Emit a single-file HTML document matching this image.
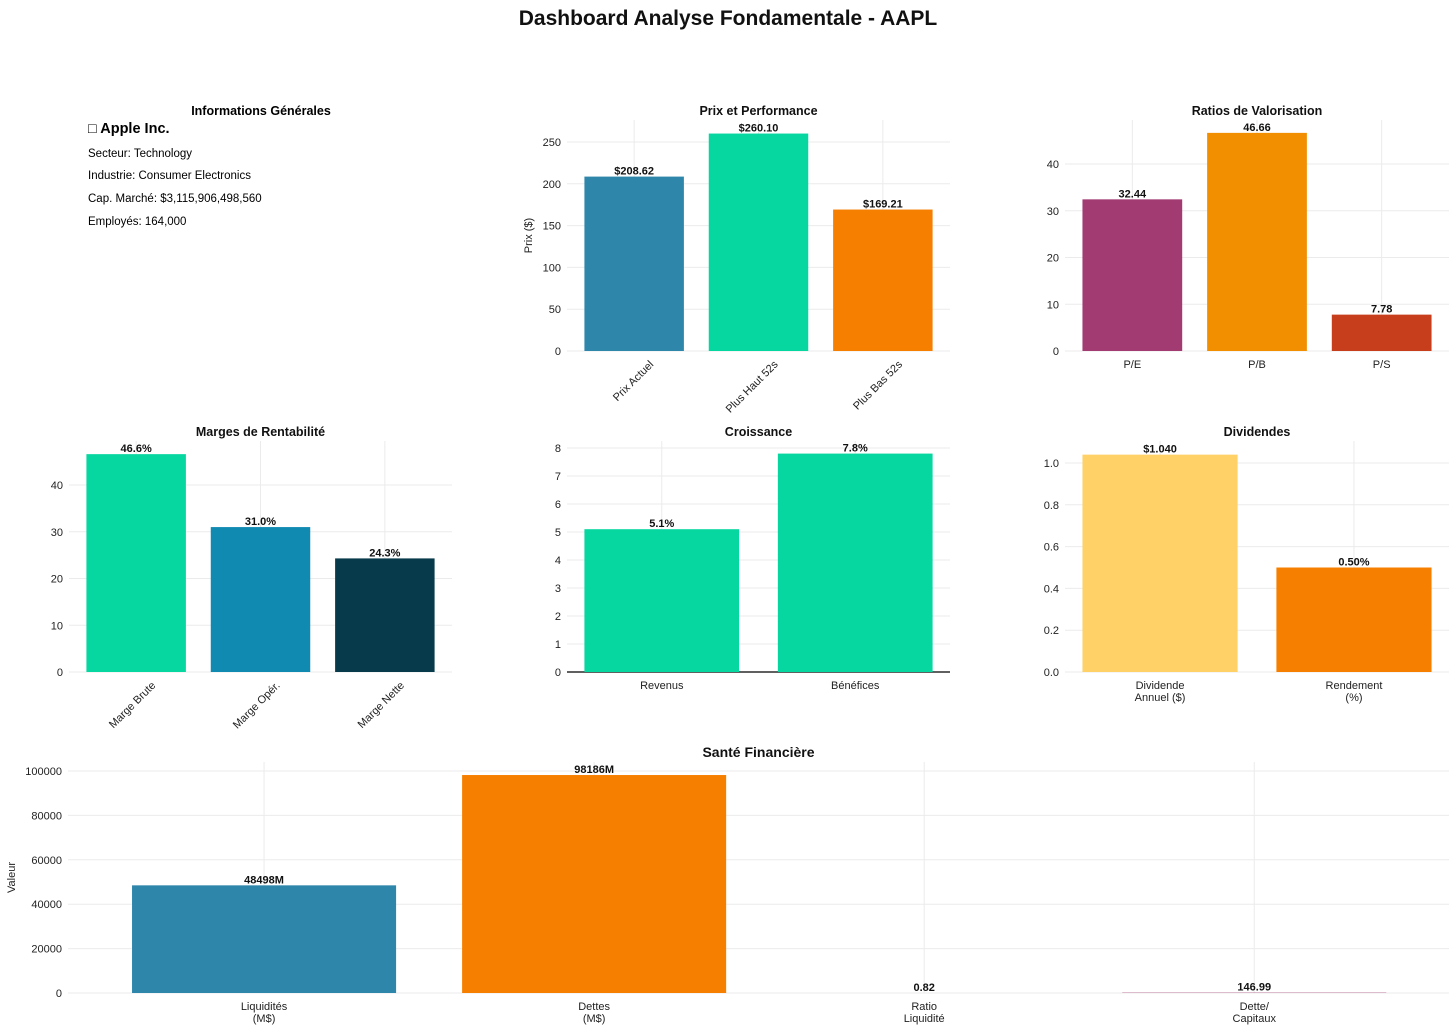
<!DOCTYPE html>
<html><head><meta charset="utf-8">
<style>
body{margin:0;background:#fff;font-family:"Liberation Sans","DejaVu Sans",sans-serif;}
svg{display:block}
</style></head><body>
<svg id="c" width="1456" height="1035" xmlns="http://www.w3.org/2000/svg" font-family="Liberation Sans, DejaVu Sans, sans-serif">
<text x="728" y="25" text-anchor="middle" font-size="21" font-weight="bold" fill="#111">Dashboard Analyse Fondamentale - AAPL</text>
<g>
<text x="261" y="115" text-anchor="middle" font-size="12.5" font-weight="bold">Informations Générales</text>
<text x="88" y="133" font-size="14.5" font-weight="bold">□ Apple Inc.</text>
<text x="88" y="157" font-size="11.5">Secteur: Technology</text>
<text x="88" y="179" font-size="11.5">Industrie: Consumer Electronics</text>
<text x="88" y="202" font-size="11.5">Cap. Marché: $3,115,906,498,560</text>
<text x="88" y="225" font-size="11.5">Employés: 164,000</text>
</g>
</svg>
<script>
const prixCats=["Prix Actuel","Plus Haut 52s","Plus Bas 52s"];
const prixVals=[208.62,260.10,169.21];
const prixLabels=["$208.62","$260.10","$169.21"];
const prixTicks=[0,50,100,150,200,250];

const ratioCats=["P/E","P/B","P/S"];
const ratioVals=[32.44,46.66,7.78];
const ratioLabels=["32.44","46.66","7.78"];
const ratioTicks=[0,10,20,30,40];

const margeCats=["Marge Brute","Marge Opér.","Marge Nette"];
const margeVals=[46.6,31.0,24.3];
const margeLabels=["46.6%","31.0%","24.3%"];
const margeTicks=[0,10,20,30,40];

const croisCats=["Revenus","Bénéfices"];
const croisVals=[5.1,7.8];
const croisLabels=["5.1%","7.8%"];
const croisTicks=[0,1,2,3,4,5,6,7,8];

const divCats=["Dividende\nAnnuel ($)","Rendement\n(%)"];
const divVals=[1.04,0.50];
const divLabels=["$1.040","0.50%"];
const divTicks=["0.0","0.2","0.4","0.6","0.8","1.0"];

const santeCats=["Liquidités\n(M$)","Dettes\n(M$)","Ratio\nLiquidité","Dette/\nCapitaux"];
const santeVals=[48498,98186,0.82,146.99];
const santeLabels=["48498M","98186M","0.82","146.99"];
const santeTicks=[0,20000,40000,60000,80000,100000];

const svg=document.getElementById('c');
const NS="http://www.w3.org/2000/svg";
function mk(tag,attrs,parent){const e=document.createElementNS(NS,tag);for(const k in attrs)e.setAttribute(k,attrs[k]);parent.appendChild(e);return e;}

function chart(o){
  const g=mk('g',{},svg);
  
  
  const n=o.cats.length;
  const xs=i=>o.x0+(i-o.xmin)*(o.x1-o.x0)/(o.xmax-o.xmin);
  const ys=v=>o.yb-(v-0)*o.ppu;
  const step=(o.x1-o.x0)/(o.xmax-o.xmin);
  o.ticks.forEach(t=>{const y=ys(parseFloat(t));
    const l=mk('line',{x1:o.x0,x2:o.x1,y1:y,y2:y,stroke:'#ebebeb','stroke-width':1},g);
    
    const tx=mk('text',{x:o.x0-6,y:y+4,'text-anchor':'end','font-size':11,fill:'#222'},g);
    
    tx.textContent=t;});
  for(let i=0;i<n;i++){const l=mk('line',{x1:xs(i),x2:xs(i),y1:o.yt,y2:o.yb,stroke:'#ebebeb','stroke-width':1},g);
    }
  if(o.zero){const z=mk('line',{x1:o.x0,x2:o.x1,y1:o.yb,y2:o.yb,stroke:'#000','stroke-width':1.2},g);
    }
  for(let i=0;i<n;i++){
    const w=step*0.8, x=xs(i)-w/2, y=ys(o.vals[i]);
    const r=mk('rect',{x:x,y:y,width:w,height:Math.max(o.yb-y,0),fill:o.colors[i]},g);
    
    const t=mk('text',{x:xs(i),y:y-2,'text-anchor':'middle','font-size':11,'font-weight':'bold',fill:'#111'},g);
    
    t.textContent=o.labels[i];
    if(o.rot){
      const ax=xs(i)+20, ay=o.yb+14;
      const c=mk('text',{x:ax,y:ay,'text-anchor':'end','font-size':11,fill:'#222',transform:`rotate(-45 ${ax} ${ay})`},g);
      
      c.textContent=o.cats[i];
    }else{
      const c=mk('text',{x:xs(i),y:o.yb+17,'text-anchor':'middle','font-size':11,fill:'#222'},g);
      
      o.cats[i].split('\n').forEach((s,k)=>{const ts=mk('tspan',{x:xs(i),dy:k?12:0},c);ts.textContent=s;});
    }
  }
  const tt=mk('text',{x:(o.x0+o.x1)/2,y:o.yt-5,'text-anchor':'middle','font-size':o.tfs||12.5,'font-weight':'bold',fill:'#111'},g);
  
  tt.textContent=o.title;
  if(o.ylabel){const yl=mk('text',{x:o.ylx,y:(o.yt+o.yb)/2,'text-anchor':'middle','font-size':11,fill:'#222',transform:`rotate(-90 ${o.ylx} ${(o.yt+o.yb)/2})`},g);
    yl.textContent=o.ylabel;}
}
chart({name:'prix-chart',title:'Prix et Performance',cats:prixCats,vals:prixVals,labels:prixLabels,ticks:prixTicks,colors:['#2E86AB','#06D6A0','#F77F00'],x0:567,x1:950,xmin:-0.54,xmax:2.54,yt:120,yb:351,ppu:0.836,rot:true,ylabel:'Prix ($)',ylx:532});
chart({name:'ratios-chart',title:'Ratios de Valorisation',cats:ratioCats,vals:ratioVals,labels:ratioLabels,ticks:ratioTicks,colors:['#A23B72','#F18F01','#C73E1D'],x0:1065,x1:1449,xmin:-0.54,xmax:2.54,yt:120,yb:351,ppu:4.675});
chart({name:'marges-chart',title:'Marges de Rentabilité',cats:margeCats,vals:margeVals,labels:margeLabels,ticks:margeTicks,colors:['#06D6A0','#118AB2','#073B4C'],x0:69,x1:452,xmin:-0.54,xmax:2.54,yt:441,yb:672,ppu:4.675,rot:true});
chart({name:'croissance-chart',title:'Croissance',cats:croisCats,vals:croisVals,labels:croisLabels,ticks:croisTicks,colors:['#06D6A0','#06D6A0'],x0:567,x1:950,xmin:-0.49,xmax:1.49,yt:441,yb:672,ppu:28,zero:true});
chart({name:'dividendes-chart',title:'Dividendes',cats:divCats,vals:divVals,labels:divLabels,ticks:divTicks,colors:['#FFD166','#F77F00'],x0:1065,x1:1449,xmin:-0.49,xmax:1.49,yt:441,yb:672,ppu:209});
chart({name:'sante-chart',title:'Santé Financière',cats:santeCats,vals:santeVals,labels:santeLabels,ticks:santeTicks,colors:['#2E86AB','#F77F00','#06D6A0','#A23B72'],x0:68,x1:1449,xmin:-0.594,xmax:3.59,yt:762,yb:993,ppu:0.00222,ylabel:'Valeur',ylx:15,tfs:14});
</script>
</body></html>
